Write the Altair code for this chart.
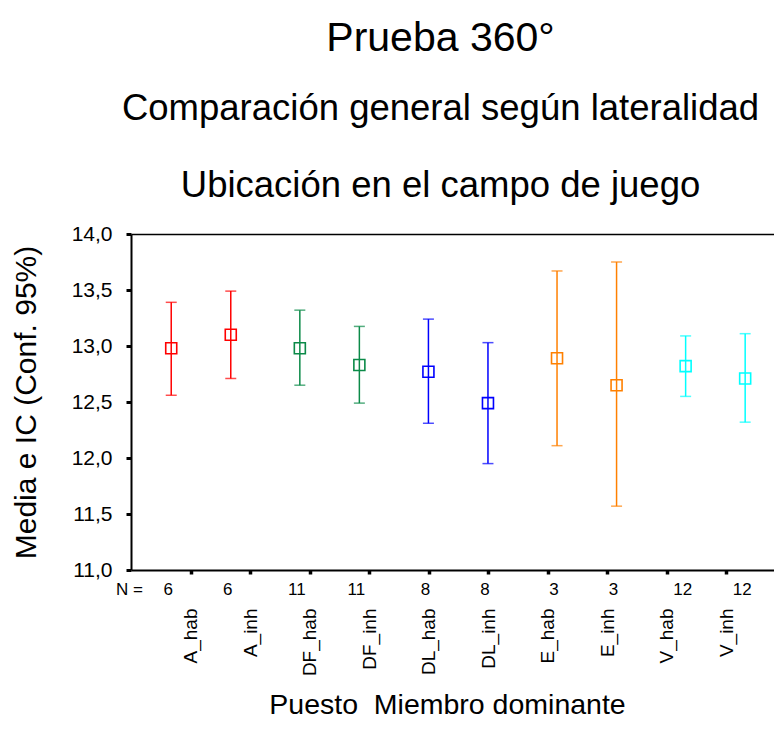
import altair as alt
import pandas as pd

# --- data ---
cats = ["A_hab", "A_inh", "DF_hab", "DF_inh", "DL_hab", "DL_inh", "E_hab", "E_inh", "V_hab", "V_inh"]
puestos = ["A", "A", "DF", "DF", "DL", "DL", "E", "E", "V", "V"]
lats = ["hab", "inh"] * 5
means = [12.98, 13.10, 12.98, 12.83, 12.77, 12.49, 12.89, 12.65, 12.82, 12.71]
lows = [12.56, 12.71, 12.65, 12.49, 12.31, 11.95, 12.11, 11.57, 12.55, 12.32]
highs = [13.39, 13.49, 13.32, 13.175, 13.24, 13.03, 13.67, 13.75, 13.09, 13.11]
ns = [6, 6, 11, 11, 8, 8, 3, 3, 12, 12]

puesto_domain = ["A", "DF", "DL", "E", "V"]
puesto_colors = ["#FF0000", "#0B8A48", "#0000FF", "#FF8000", "#00FFFF"]
y_ticks = [11.0, 11.5, 12.0, 12.5, 13.0, 13.5, 14.0]

df = pd.DataFrame({
    "cat": cats, "puesto": puestos, "lat": lats,
    "mean": means, "lo": lows, "hi": highs, "n": [str(v) for v in ns],
})

W, H = 643, 336
FONT = "Liberation Sans"
YTITLE = "Media e IC (Conf. 95%)"

yscale = alt.Scale(domain=[11, 14], nice=False, zero=False)
yaxis = alt.Axis(
    values=y_ticks, title=YTITLE,
    labelExpr="replace(format(datum.value, '.1f'), '.', ',')",
    labelFontSize=21, labelPadding=14, tickSize=5, tickWidth=3, tickColor="black",
    domainWidth=2, domainColor="black", grid=False,
    titleFontSize=30, titleFontWeight="normal", titlePadding=30, titleColor="black",
    labelColor="black",
)

xg = alt.X(
    "puesto:N",
    scale=alt.Scale(domain=puesto_domain, paddingInner=0, paddingOuter=0),
    axis=alt.Axis(orient="top", labels=False, ticks=False, title=None,
                  domainWidth=1.5, domainColor="black", grid=False),
)
xo = alt.XOffset(
    "lat:N",
    scale=alt.Scale(domain=["hab", "inh"], paddingInner=1, paddingOuter=0.58, align=0.5825),
)
col = alt.Color("puesto:N", scale=alt.Scale(domain=puesto_domain, range=puesto_colors), legend=None)

base = alt.Chart(df).encode(x=xg, xOffset=xo, color=col)

rule = base.mark_rule(strokeWidth=1.5).encode(
    y=alt.Y("lo:Q", scale=yscale, axis=yaxis, title=YTITLE), y2="hi:Q")
tlo = base.mark_tick(size=11, thickness=1.5).encode(
    y=alt.Y("lo:Q", scale=yscale, axis=yaxis, title=YTITLE))
thi = base.mark_tick(size=11, thickness=1.5).encode(
    y=alt.Y("hi:Q", scale=yscale, axis=yaxis, title=YTITLE))
pts = base.mark_point(shape="square", filled=False, size=121, strokeWidth=1.6, opacity=1).encode(
    y=alt.Y("mean:Q", scale=yscale, axis=yaxis, title=YTITLE))
ntext = base.mark_text(fontSize=17, font=FONT, baseline="middle", dx=-3, color="black").encode(
    y=alt.value(H + 20), text="n:N", color=alt.value("black"))
nlabel = alt.Chart(pd.DataFrame({"t": ["N ="]})).mark_text(
    fontSize=17, font=FONT, align="right", baseline="middle", color="black"
).encode(x=alt.value(12), y=alt.value(H + 20), text="t:N")

group1 = alt.layer(rule, tlo, thi, pts, ntext)

labels_layer = alt.Chart(df).mark_point(opacity=0).encode(
    x=alt.X(
        "cat:N",
        scale=alt.Scale(type="point", domain=cats, padding=0.9, align=0.556),
        axis=alt.Axis(
            orient="bottom", labelAngle=-90, labelFontSize=19, labelPadding=34,
            labelColor="black", tickSize=4, tickWidth=3.5, tickColor="black",
            domainWidth=2, domainColor="black", grid=False,
            title="Puesto\u00a0 Miembro dominante", titleFontSize=28.5,
            titleFontWeight="normal", titleColor="black",
            titleX=316, titleY=143, titleBaseline="alphabetic", titleAnchor="middle",
        ),
    ),
    y=alt.value(0),
)

chart = alt.layer(group1, labels_layer, nlabel).resolve_scale(x="independent").properties(
    width=W, height=H,
    autosize=alt.AutoSizeParams(type="none"),
    padding={"left": 131, "top": 234, "right": 0, "bottom": 742 - 234 - H},
    title=alt.TitleParams(
        text="Prueba 360°",
        subtitle=["Comparación general según lateralidad", "Ubicación en el campo de juego"],
        fontSize=41, subtitleFontSize=36.5, font=FONT, subtitleFont=FONT,
        fontWeight="normal", color="black", subtitleColor="black",
        anchor="middle", dx=-12, offset=18, subtitlePadding=31, subtitleLineHeight=77,
    ),
).configure_view(stroke=None).configure_axis(labelFont=FONT, titleFont=FONT)

chart.save("out.html", embed_options={"renderer": "svg", "actions": False})
